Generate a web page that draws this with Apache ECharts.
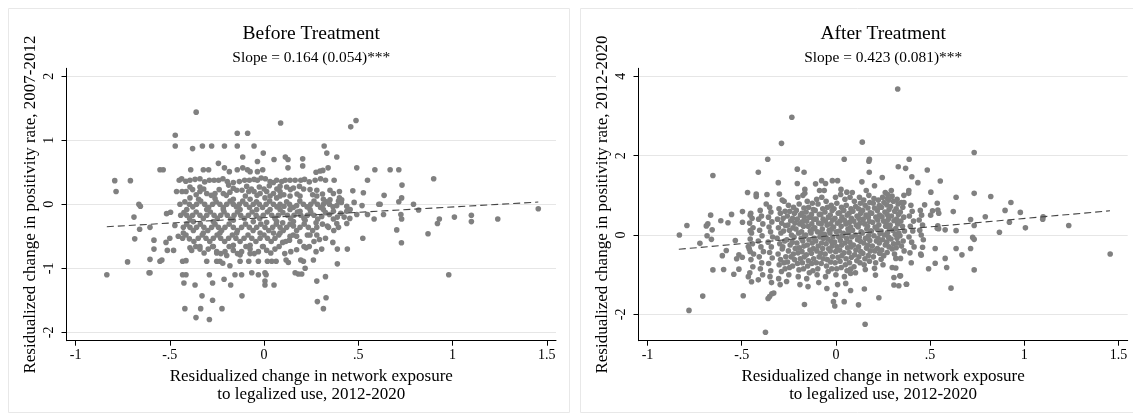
<!DOCTYPE html>
<html><head><meta charset="utf-8">
<script src="https://cdn.jsdelivr.net/npm/echarts@6/dist/echarts.min.js"></script>
<style>html,body{margin:0;padding:0;background:#fff}#c{width:1133px;height:413px}</style>
</head><body><div id="c"></div>
<script>
const xTickValues = [-1, -0.5, 0, 0.5, 1, 1.5];
const xTickLabels = ['-1', '-.5', '0', '.5', '1', '1.5'];
const beforeYTicks = [-2, -1, 0, 1, 2];
const beforeYLabels = ['-2', '-1', '0', '1', '2'];
const afterYTicks = [-2, 0, 2, 4];
const afterYLabels = ['-2', '0', '2', '4'];
const titles = ['Before Treatment', 'After Treatment'];
const subtitles = ['Slope = 0.164 (0.054)***', 'Slope = 0.423 (0.081)***'];
const xName = 'Residualized change in network exposure\nto legalized use, 2012-2020';
const yNames = ['Residualized change in positivity rate, 2007-2012', 'Residualized change in positivity rate, 2012-2020'];

const beforePoints = [
[-0.834,-1.10],[-0.792,0.37],[-0.785,0.20],[-0.709,0.37],[-0.69,-0.20],[-0.686,-0.54],[-0.724,-0.90],[-0.664,0.0],[-0.656,-0.03],[-0.66,-0.39],[-0.61,-1.07],
[0.82,-0.09],[0.87,-0.46],[0.90,0.40],[0.93,-0.23],[0.92,-0.30],[0.98,-1.10],[1.01,-0.20],[1.10,-0.17],[1.10,-0.27],[1.24,-0.23],[1.455,-0.07],
[-0.36,1.44],[-0.471,1.08],[-0.471,0.91],[-0.379,0.87],[-0.327,0.91],[-0.278,0.91],[-0.21,0.91],[-0.142,0.91],[-0.142,1.11],[-0.087,1.11],[-0.053,0.91],[0.088,1.27],[-0.004,0.80],[-0.113,0.74],[0.053,0.70],[-0.035,0.67],[-0.242,0.64],[-0.21,0.57],[-0.184,0.51],
[-0.552,0.54],[-0.535,0.54],[-0.389,0.54],[-0.322,0.54],[-0.294,0.54],[-0.142,0.54],[-0.113,0.57],[-0.088,0.54],[-0.074,0.51],[-0.035,0.51],[-0.007,0.54],
[-0.45,0.376],[-0.437,0.40],[-0.393,0.376],[-0.34,0.40],[-0.29,0.376],[-0.265,0.376],[-0.241,0.376],[-0.195,0.355],[-0.131,0.355],[-0.103,0.376],[-0.078,0.376],[-0.053,0.39],[-0.035,0.376],[0.007,0.40],[0.032,0.355],[0.067,0.376],[0.094,0.355],
[-0.415,0.36],[-0.366,0.39],[-0.315,0.35],[-0.218,0.40],[-0.163,0.34],[-0.015,0.41],[0.05,0.34],[0.215,0.39],[0.24,0.35],[0.3,0.40],
[-0.464,0.20],[-0.435,0.20],[-0.414,0.20],[-0.379,0.23],[-0.34,0.20],[-0.304,0.17],[-0.26,0.17],[-0.216,0.17],[-0.181,0.19],[-0.145,0.22],[-0.117,0.22],[-0.081,0.20],[-0.053,0.20],[-0.021,0.17],[0.014,0.20],[0.05,0.17],[0.085,0.20],
[-0.36,0.15],[-0.32,0.24],[-0.28,0.14],[-0.238,0.23],[-0.2,0.14],[-0.163,0.25],[-0.099,0.13],[-0.067,0.24],[-0.037,0.14],[0.0,0.24],[0.032,0.13],[0.068,0.24],[0.105,0.15],[0.14,0.23],[0.175,0.16],[0.21,0.24],[0.28,0.22],[0.31,0.16],[0.40,0.2],
[-0.393,0.27],[-0.34,0.27],[-0.188,0.30],[-0.092,0.28],[-0.025,0.27],[0.028,0.29],
[-0.393,0.10],[-0.347,0.08],[-0.26,0.09],[-0.163,0.08],[-0.074,0.08],[0.005,0.10],[0.067,0.10],
[-0.446,0],[-0.396,0],[-0.358,0],[-0.315,0],[-0.273,0],[-0.234,0],[-0.198,0],[-0.163,0],[-0.131,0],[-0.096,0],[-0.057,0],[-0.025,0],[0.011,0],[0.05,0],[0.085,0],
[-0.42,0.04],[-0.378,-0.04],[-0.336,0.05],[-0.294,-0.05],[-0.254,0.04],[-0.216,-0.05],[-0.18,0.05],[-0.147,-0.04],[-0.113,0.05],[-0.077,-0.05],[-0.04,0.04],[-0.008,-0.05],[0.03,0.05],[0.068,-0.04],[0.12,0.04],[0.155,-0.05],[0.19,0.05],[0.228,-0.04],[0.265,0.05],[0.3,-0.05],[0.331,0.04],[0.366,-0.04],[0.41,0.03],
[-0.517,-0.146],[-0.496,-0.125],[-0.41,-0.08],[-0.304,-0.08],[-0.216,-0.08],[-0.127,-0.08],[-0.039,-0.08],[0.032,-0.08],
[-0.442,-0.17],[-0.41,-0.17],[-0.379,-0.17],[-0.34,-0.17],[-0.304,-0.17],[-0.265,-0.17],[-0.23,-0.17],[-0.195,-0.17],[-0.159,-0.17],[-0.124,-0.17],[-0.083,-0.17],[-0.042,-0.17],[-0.004,-0.17],[0.041,-0.17],[0.076,-0.17],
[-0.425,-0.13],[-0.395,-0.22],[-0.36,-0.12],[-0.322,-0.22],[-0.285,-0.12],[-0.248,-0.22],[-0.212,-0.12],[-0.177,-0.23],[-0.141,-0.12],[-0.104,-0.22],[-0.063,-0.12],[-0.023,-0.22],[0.018,-0.12],[0.058,-0.22],[0.1,-0.13],[0.141,-0.22],[0.177,-0.12],[0.212,-0.22],[0.248,-0.12],[0.285,-0.23],[0.326,-0.13],[0.368,-0.23],[0.407,-0.14],[0.455,-0.22],
[-0.375,-0.27],[-0.269,-0.27],[-0.163,-0.25],[-0.057,-0.27],[0.014,-0.28],[0.067,-0.27],
[-0.605,-0.36],
[-0.473,-0.33],[-0.428,-0.36],[-0.393,-0.36],[-0.358,-0.36],[-0.319,-0.36],[-0.278,-0.36],[-0.242,-0.36],[-0.207,-0.36],[-0.163,-0.36],[-0.119,-0.36],[-0.078,-0.36],[-0.039,-0.36],[0.005,-0.36],[0.046,-0.36],[0.085,-0.36],
[-0.41,-0.31],[-0.375,-0.41],[-0.338,-0.31],[-0.298,-0.41],[-0.26,-0.31],[-0.225,-0.41],[-0.185,-0.31],[-0.141,-0.41],[-0.098,-0.31],[-0.058,-0.41],[-0.017,-0.31],[0.025,-0.41],[0.065,-0.31],[0.102,-0.41],[0.138,-0.31],[0.173,-0.41],[0.213,-0.31],[0.258,-0.41],[0.31,-0.31],[0.37,-0.41],
[-0.428,-0.45],[-0.322,-0.45],[-0.234,-0.45],[-0.145,-0.45],[-0.021,-0.45],[0.05,-0.45],
[-0.584,-0.56],[-0.52,-0.595],[-0.50,-0.53],[-0.455,-0.50],[-0.432,-0.53],[-0.396,-0.54],[-0.349,-0.53],[-0.308,-0.53],[-0.269,-0.53],[-0.23,-0.53],[-0.188,-0.53],[-0.149,-0.53],[-0.106,-0.53],[-0.065,-0.53],[-0.021,-0.53],[0.018,-0.53],[0.058,-0.53],[0.099,-0.595],
[-0.414,-0.48],[-0.372,-0.58],[-0.328,-0.48],[-0.288,-0.58],[-0.249,-0.48],[-0.209,-0.58],[-0.168,-0.48],[-0.127,-0.58],[-0.085,-0.48],[-0.043,-0.58],[0.0,-0.48],[0.038,-0.58],[0.078,-0.48],[0.115,-0.58],[0.155,-0.48],[0.19,-0.58],[0.23,-0.48],[0.265,-0.58],
[-0.393,-0.68],[-0.34,-0.66],[-0.269,-0.66],[-0.163,-0.64],[-0.074,-0.64],[-0.004,-0.66],
[-0.584,-0.70],[-0.513,-0.72],[-0.48,-0.72],[-0.384,-0.72],[-0.34,-0.70],[-0.296,-0.70],[-0.251,-0.74],[-0.207,-0.74],[-0.163,-0.72],[-0.119,-0.74],[-0.074,-0.70],[-0.03,-0.74],[0.014,-0.72],[0.058,-0.70],
[-0.362,-0.66],[-0.318,-0.76],[-0.273,-0.66],[-0.229,-0.77],[-0.185,-0.66],[-0.141,-0.77],[-0.096,-0.66],[-0.052,-0.77],[-0.008,-0.66],[0.036,-0.76],[0.08,-0.66],[0.11,-0.77],[0.24,-0.66],
[-0.251,-0.76],[-0.198,-0.80],[-0.127,-0.79],[-0.074,-0.77],
[-0.605,-0.86],[-0.552,-0.89],[-0.542,-0.87],[-0.432,-0.89],[-0.414,-0.88],[-0.304,-0.89],[-0.251,-0.89],[-0.234,-0.89],[-0.219,-0.92],[-0.181,-0.96],[-0.127,-0.89],[-0.081,-0.89],[-0.03,-0.89],[0.018,-0.89],[0.041,-0.89],[0.064,-0.89],
[-0.605,-1.07],[-0.432,-1.10],[-0.414,-1.10],[-0.29,-1.10],[-0.154,-1.10],[-0.119,-1.10],[-0.065,-1.07],[-0.03,-1.10],[0.005,-1.07],[0.011,-1.10],
[-0.425,-1.23],[-0.366,-1.26],[-0.273,-1.23],[-0.212,-1.17],[-0.177,-1.26],[0.005,-1.20],[0.005,-1.26],[0.053,-1.26],
[-0.329,-1.43],[-0.273,-1.50],[-0.117,-1.43],
[-0.42,-1.63],[-0.336,-1.63],[-0.223,-1.63],
[-0.361,-1.77],[-0.29,-1.80],
[0.46,1.21],[0.488,1.31],[0.319,0.91],[0.333,0.80],[0.386,0.74],[0.113,0.74],[0.127,0.70],[0.205,0.71],[0.205,0.60],[0.127,0.57],[0.276,0.50],[0.297,0.52],[0.312,0.53],[0.34,0.57],[0.492,0.57],[0.588,0.54],[0.669,0.54],[0.715,0.54],
[0.112,0.376],[0.138,0.376],[0.165,0.376],[0.195,0.376],[0.271,0.376],[0.326,0.376],[0.372,0.376],[0.549,0.376],
[0.732,0.30],[0.471,0.21],[0.527,0.18],[0.637,0.14],
[0.085,0.28],[0.12,0.27],[0.156,0.255],[0.188,0.28],[0.244,0.23],[0.258,0.15],[0.35,0.22],[0.368,0.17],[0.40,0.10],[0.412,0.07],
[0.085,0.13],[0.138,0.13],[0.191,0.13],[0.28,0.13],[0.315,0.08],[0.35,0.07],[0.395,0.05],
[0.106,-0.03],[0.135,0],[0.173,-0.02],[0.209,0],[0.248,0],[0.283,0],[0.315,0],[0.347,0],[0.386,-0.02],[0.439,-0.03],[0.478,0.03],[0.52,-0.02],[0.609,0],[0.616,0],
[0.715,0.04],[0.73,0.10],[0.793,0],
[0.085,-0.08],[0.138,-0.08],[0.191,-0.11],[0.244,-0.08],[0.315,-0.08],[0.368,-0.11],[0.439,-0.11],[0.457,-0.08],
[0.124,-0.17],[0.159,-0.17],[0.195,-0.17],[0.23,-0.17],[0.265,-0.17],[0.306,-0.19],[0.347,-0.16],[0.389,-0.20],[0.425,-0.20],[0.492,-0.16],[0.549,-0.16],[0.584,-0.23],[0.634,-0.16],[0.726,-0.16],
[0.099,-0.29],[0.156,-0.27],[0.218,-0.25],[0.276,-0.29],[0.336,-0.34],[0.386,-0.30],[0.439,-0.30],[0.73,-0.23],
[0.12,-0.36],[0.156,-0.34],[0.191,-0.36],[0.235,-0.36],[0.28,-0.36],[0.342,-0.36],[0.395,-0.36],
[0.085,-0.45],[0.138,-0.50],[0.173,-0.50],[0.244,-0.48],[0.28,-0.48],[0.326,-0.53],[0.524,-0.53],
[0.704,-0.40],
[0.135,-0.56],[0.212,-0.66],[0.223,-0.68],[0.294,-0.55],[0.365,-0.595],[0.389,-0.70],[0.442,-0.70],
[0.729,-0.60],
[0.142,-0.74],[0.173,-0.71],[0.195,-0.87],[0.209,-0.89],[0.262,-0.87],[0.276,-0.74],[0.306,-0.70],
[0.117,-0.87],[0.129,-0.91],[0.389,-0.93],
[0.165,-1.07],[0.182,-1.09],[0.20,-1.09],[0.218,-1.0],
[0.28,-1.20],[0.326,-1.13],[0.283,-1.52],[0.329,-1.46],[0.315,-1.63]
];

const afterPoints = [
[-0.831,0.0],[-0.791,0.24],[-0.78,-1.90],[-0.722,-0.21],[-0.707,-1.54],[-0.688,0.23],[-0.68,0.28],[-0.684,-0.02],[-0.665,0.50],[-0.661,-0.11],[-0.653,1.50],[-0.657,0.13],[-0.653,-0.88],[-0.611,0.36],[-0.603,-0.52],[-0.596,-0.87],[-0.573,0.31],[-0.554,0.52],[-0.542,-0.99],[-0.534,-0.14],[-0.527,-0.60],[-0.515,-0.86],[-0.496,0.59],[-0.492,-1.53],[-0.496,0.32],[-0.469,1.07],[-0.412,1.58],[-0.362,1.91],[-0.374,-2.45],[-0.289,2.31],[-0.234,2.97],[-0.205,1.66],[-0.169,1.58],[0.044,1.91],[0.14,2.34],[0.178,1.91],[0.328,3.68],[0.331,1.72],[0.389,1.91],[0.37,1.68],[0.485,1.64],[0.554,1.36],[0.734,2.08],[0.734,1.05],[0.638,0.95],[0.822,0.97],[0.929,0.82],[0.898,0.62],[0.979,0.57],[0.921,0.32],[0.868,0.07],[1.006,0.18],[1.098,0.40],[1.10,0.46],[1.236,0.24],[1.456,-0.48],
[0.611,-1.34],[0.734,-0.88],[0.734,-0.11],[0.726,-0.06],[0.715,-0.34],[0.669,-0.50],[0.638,-0.34],[0.58,-0.59],[0.588,-0.82],[0.527,-0.71],[0.492,-0.85],[0.527,-0.34],[0.715,0.39],[0.734,0.24],[0.638,0.11],[0.58,0.13],[0.623,0.59],[0.538,0.17],[0.538,0.80],[0.546,0.55],[0.504,1.08],
[0.308,-1.26],[0.339,-1.03],[0.374,-1.24],[0.228,-1.58],[0.155,-2.25],[0.12,-1.76],[0.151,-1.36],[-0.006,-1.79],[-0.013,-1.68],[0.044,-1.68],[-0.167,-1.75],[-0.36,-1.60],[-0.352,-1.55],[-0.34,-1.48],[-0.33,-1.46],
[-0.306,1.32],[-0.205,1.30],[-0.108,1.29],[-0.076,1.37],[-0.055,1.30],[-0.019,1.37],[0.009,1.37],[-0.423,1.03],[-0.423,0.97],[-0.366,1.02],[-0.30,1.03],[-0.37,0.78],[-0.285,0.88],[-0.165,1.15],[-0.165,1.05],[-0.087,1.12],[-0.062,1.12],[0.027,1.15],[0.058,1.08],[0.087,1.07],
[-0.455,0.50],[-0.582,-0.39],[-0.515,-0.50],[-0.497,-0.56],[-0.465,-1.05],[-0.448,-1.18],[-0.412,-1.13],[-0.262,-1.17],[-0.455,0.11],[-0.465,-0.29],[-0.455,-0.42],
[0.175,1.86],[0.177,1.58],[0.138,1.34],[0.246,1.45],[0.205,1.24],[0.403,1.47],[0.435,1.32],[0.161,1.12],[0.202,0.92],[0.262,1.07],[0.294,1.12],[0.273,0.92],[0.387,1.12],[0.386,1.05],[0.361,1.0],[0.361,0.82],[0.541,0.63],[0.471,0.76],[0.513,0.61],[0.503,0.50],[0.793,0.46],[0.541,0.23],[0.545,0.16],
[0.46,-0.31],[0.45,-0.48],[0.453,-0.51],[0.40,-0.70],[0.318,-0.59],[0.343,-0.59],[0.299,-0.82],[0.308,-1.07],[0.343,-1.03],[0.334,-1.28],[0.375,-1.24],[0.318,-0.83],[0.24,-0.61],[0.205,-0.84],[0.156,-0.87],[0.21,-1.01],[0.078,-0.97],[0.078,-1.40],
[-0.452,0.55],[-0.445,0.42],[-0.458,0.30],[-0.44,0.18],[-0.448,0.05],[-0.455,-0.10],[-0.443,-0.22],[-0.46,-0.35],[-0.437,-0.48],[-0.451,-0.62],[-0.441,-0.80],[-0.457,-0.95],
[-0.402,0.62],[-0.395,0.48],[-0.41,0.40],[-0.388,0.28],[-0.405,0.12],[-0.392,-0.02],[-0.412,-0.15],[-0.398,-0.30],[-0.385,-0.42],[-0.407,-0.55],[-0.394,-0.70],[-0.401,-0.85],[-0.389,-1.0],
[-0.352,0.70],[-0.345,0.58],[-0.358,0.45],[-0.34,0.33],[-0.355,0.20],[-0.347,0.08],[-0.336,-0.05],[-0.36,-0.18],[-0.343,-0.30],[-0.352,-0.44],[-0.338,-0.58],[-0.357,-0.72],[-0.346,-0.90],[-0.35,-1.05],[-0.342,-1.20],
[-0.302,0.66],[-0.295,0.55],[-0.31,0.40],[-0.288,0.30],[-0.305,0.18],[-0.292,0.05],[-0.312,-0.08],[-0.298,-0.22],[-0.285,-0.35],[-0.307,-0.48],[-0.294,-0.62],[-0.301,-0.75],[-0.289,-0.92],[-0.304,-1.10],[-0.296,-1.25],
[-0.252,0.75],[-0.245,0.60],[-0.258,0.48],[-0.24,0.36],[-0.255,0.25],[-0.247,0.12],[-0.236,0.0],[-0.26,-0.12],[-0.243,-0.25],[-0.252,-0.40],[-0.238,-0.55],[-0.257,-0.68],[-0.246,-0.82],[-0.25,-1.0],
[-0.202,0.95],[-0.195,0.78],[-0.21,0.62],[-0.188,0.50],[-0.205,0.40],[-0.192,0.28],[-0.212,0.15],[-0.198,0.05],[-0.185,-0.08],[-0.207,-0.20],[-0.194,-0.32],[-0.201,-0.45],[-0.189,-0.60],[-0.204,-0.72],[-0.196,-0.88],[-0.2,-1.05],[-0.191,-1.25],
[-0.152,0.85],[-0.145,0.70],[-0.158,0.58],[-0.14,0.45],[-0.155,0.35],[-0.147,0.22],[-0.136,0.10],[-0.16,0.0],[-0.143,-0.12],[-0.152,-0.25],[-0.138,-0.38],[-0.157,-0.50],[-0.146,-0.65],[-0.15,-0.78],[-0.141,-0.95],[-0.155,-1.10],[-0.148,-1.30],
[-0.102,0.90],[-0.095,0.78],[-0.11,0.62],[-0.088,0.52],[-0.105,0.40],[-0.092,0.30],[-0.112,0.18],[-0.098,0.08],[-0.085,-0.05],[-0.107,-0.15],[-0.094,-0.28],[-0.101,-0.40],[-0.089,-0.55],[-0.104,-0.70],[-0.096,-0.85],[-0.1,-1.0],[-0.091,-1.20],
[-0.052,0.85],[-0.045,0.70],[-0.058,0.58],[-0.04,0.45],[-0.055,0.35],[-0.047,0.25],[-0.036,0.12],[-0.06,0.02],[-0.043,-0.10],[-0.052,-0.22],[-0.038,-0.35],[-0.057,-0.48],[-0.046,-0.62],[-0.05,-0.78],[-0.041,-0.92],[-0.055,-1.05],[-0.048,-1.35],
[-0.002,0.95],[0.005,0.80],[-0.01,0.66],[0.012,0.55],[-0.005,0.42],[0.008,0.30],[-0.012,0.20],[0.002,0.08],[0.015,-0.05],[-0.007,-0.18],[0.006,-0.30],[-0.001,-0.42],[0.011,-0.56],[-0.004,-0.70],[0.004,-0.85],[0.0,-1.0],[0.009,-1.25],[-0.003,-1.50],
[0.048,0.90],[0.055,0.75],[0.042,0.62],[0.06,0.50],[0.045,0.38],[0.053,0.28],[0.064,0.15],[0.04,0.04],[0.057,-0.08],[0.048,-0.20],[0.062,-0.32],[0.043,-0.45],[0.054,-0.60],[0.05,-0.75],[0.059,-0.90],[0.045,-1.05],[0.052,-1.22],
[0.098,0.85],[0.105,0.72],[0.09,0.60],[0.112,0.48],[0.095,0.35],[0.108,0.25],[0.088,0.12],[0.102,0.0],[0.115,-0.12],[0.093,-0.25],[0.106,-0.38],[0.099,-0.50],[0.111,-0.65],[0.096,-0.80],[0.104,-0.95],
[0.148,0.88],[0.155,0.75],[0.142,0.62],[0.16,0.50],[0.145,0.40],[0.153,0.28],[0.164,0.15],[0.14,0.05],[0.157,-0.08],[0.148,-0.20],[0.162,-0.33],[0.143,-0.46],[0.154,-0.60],[0.15,-0.75],
[0.198,0.80],[0.205,0.68],[0.19,0.55],[0.212,0.45],[0.195,0.32],[0.208,0.20],[0.188,0.10],[0.202,-0.02],[0.215,-0.15],[0.193,-0.28],[0.206,-0.40],[0.199,-0.55],[0.211,-0.70],
[0.248,0.95],[0.255,0.82],[0.242,0.70],[0.26,0.58],[0.245,0.46],[0.253,0.35],[0.264,0.22],[0.24,0.10],[0.257,0.0],[0.248,-0.12],[0.262,-0.25],[0.243,-0.38],[0.254,-0.52],[0.25,-0.75],
[0.298,0.98],[0.305,0.85],[0.29,0.72],[0.312,0.60],[0.295,0.48],[0.308,0.36],[0.288,0.25],[0.302,0.12],[0.315,0.02],[0.293,-0.10],[0.306,-0.22],[0.299,-0.35],[0.311,-0.48],
[0.348,0.82],[0.355,0.70],[0.342,0.58],[0.36,0.45],[0.345,0.35],[0.353,0.22],[0.364,0.10],[0.34,-0.02],[0.357,-0.15],[0.348,-0.28],[0.362,-0.40],
[0.398,0.75],[0.405,0.60],[0.39,0.48],[0.412,0.35],[0.395,0.22],[0.408,0.10],[0.388,-0.05],[0.402,-0.18],[0.415,-0.30],[0.393,-0.45],
[0.448,0.62],[0.455,0.50],[0.442,0.38],[0.46,0.25],[0.445,0.12],[0.453,0.0],[0.464,-0.12],
[-0.275,0.85],[-0.27,0.60],[-0.28,0.42],[-0.268,0.24],[-0.278,0.10],[-0.272,-0.15],[-0.282,-0.30],[-0.266,-0.55],[-0.276,-0.70],[-0.27,-0.85],
[-0.225,0.70],[-0.22,0.55],[-0.23,0.42],[-0.218,0.30],[-0.228,0.18],[-0.222,-0.05],[-0.232,-0.18],[-0.216,-0.34],[-0.226,-0.48],[-0.22,-0.62],[-0.23,-0.78],
[-0.175,1.0],[-0.17,0.68],[-0.18,0.55],[-0.168,0.45],[-0.178,0.33],[-0.172,0.22],[-0.182,0.08],[-0.166,-0.02],[-0.176,-0.15],[-0.17,-0.28],[-0.18,-0.42],[-0.168,-0.55],[-0.178,-0.70],[-0.172,-0.85],
[-0.125,0.80],[-0.12,0.64],[-0.13,0.52],[-0.118,0.40],[-0.128,0.28],[-0.122,0.15],[-0.132,0.05],[-0.116,-0.08],[-0.126,-0.20],[-0.12,-0.34],[-0.13,-0.46],[-0.118,-0.60],[-0.128,-0.72],[-0.122,-0.90],
[-0.075,0.95],[-0.07,0.66],[-0.08,0.52],[-0.068,0.40],[-0.078,0.28],[-0.072,0.15],[-0.082,0.05],[-0.066,-0.08],[-0.076,-0.20],[-0.07,-0.34],[-0.08,-0.46],[-0.068,-0.60],[-0.078,-0.72],
[-0.025,0.75],[-0.02,0.62],[-0.03,0.50],[-0.018,0.38],[-0.028,0.28],[-0.022,0.15],[-0.032,0.05],[-0.016,-0.05],[-0.026,-0.16],[-0.02,-0.28],[-0.03,-0.40],[-0.018,-0.55],[-0.028,-0.68],[-0.022,-0.85],
[0.025,1.02],[0.03,0.70],[0.02,0.56],[0.032,0.45],[0.022,0.35],[0.028,0.22],[0.018,0.10],[0.034,-0.02],[0.024,-0.14],[0.03,-0.26],[0.02,-0.38],[0.032,-0.52],[0.022,-0.66],[0.028,-0.82],
[0.075,0.95],[0.08,0.66],[0.07,0.55],[0.082,0.42],[0.072,0.32],[0.078,0.20],[0.068,0.06],[0.084,-0.05],[0.074,-0.18],[0.08,-0.30],[0.07,-0.44],[0.082,-0.56],[0.072,-0.70],[0.078,-0.86],
[0.125,0.95],[0.13,0.80],[0.12,0.66],[0.132,0.55],[0.122,0.42],[0.128,0.30],[0.118,0.20],[0.134,0.08],[0.124,-0.05],[0.13,-0.16],[0.12,-0.30],[0.132,-0.42],[0.122,-0.55],[0.128,-0.70],
[0.175,1.0],[0.18,0.82],[0.17,0.68],[0.182,0.56],[0.172,0.45],[0.178,0.34],[0.168,0.22],[0.184,0.10],[0.174,-0.02],[0.18,-0.14],[0.17,-0.26],[0.182,-0.40],[0.172,-0.52],[0.178,-0.66],
[0.225,0.88],[0.23,0.74],[0.22,0.62],[0.232,0.50],[0.222,0.38],[0.228,0.26],[0.218,0.15],[0.234,0.04],[0.224,-0.08],[0.23,-0.20],[0.22,-0.34],[0.232,-0.46],
[0.275,1.02],[0.28,0.88],[0.27,0.76],[0.282,0.64],[0.272,0.52],[0.278,0.40],[0.268,0.28],[0.284,0.16],[0.274,0.06],[0.28,-0.06],[0.27,-0.18],[0.282,-0.30],[0.272,-0.44],
[0.325,0.90],[0.33,0.78],[0.32,0.66],[0.332,0.52],[0.322,0.40],[0.328,0.28],[0.318,0.16],[0.334,0.05],[0.324,-0.08],[0.33,-0.20],[0.32,-0.32]
];

const beforeFit = [[-0.834, -0.35], [1.455, 0.035]];
const afterFit = [[-0.834, -0.36], [1.455, 0.61]];

const FONT = '"Liberation Serif", "Times New Roman", serif';
const DOT = '#808080';

function fmt(values, labels) {
  return function (v) {
    for (let i = 0; i < values.length; i++) if (Math.abs(values[i] - v) < 1e-9) return labels[i];
    return '';
  };
}

function xAxisCfg(gi) {
  return {
    type: 'value', gridIndex: gi, min: -1.048, max: 1.549,
    axisLine: { show: true, onZero: false, lineStyle: { color: '#000', width: 1 } },
    axisTick: { show: true, customValues: xTickValues, length: 5, lineStyle: { color: '#000', width: 1 } },
    axisLabel: { customValues: xTickValues, formatter: fmt(xTickValues, xTickLabels), fontFamily: FONT, fontSize: 14, color: '#000', margin: 8 },
    splitLine: { show: false },
    name: xName, nameLocation: 'middle', nameGap: 19,
    nameTextStyle: { fontFamily: FONT, fontSize: 17, lineHeight: 18, color: '#000' }
  };
}
function yAxisCfg(gi, min, max, ticks, labels, name) {
  return {
    type: 'value', gridIndex: gi, min: min, max: max,
    axisLine: { show: true, onZero: false, lineStyle: { color: '#000', width: 1 } },
    axisTick: { show: true, customValues: ticks, length: 5, lineStyle: { color: '#000', width: 1 } },
    axisLabel: { customValues: ticks, formatter: fmt(ticks, labels), rotate: 90, fontFamily: FONT, fontSize: 14, color: '#000', margin: 10 },
    splitLine: { show: true, lineStyle: { color: '#e6e6e6', width: 1 } },
    name: name, nameLocation: 'middle', nameGap: 27, nameRotate: 90,
    nameTextStyle: { fontFamily: FONT, fontSize: 17, color: '#000' }
  };
}

const chart = echarts.init(document.getElementById('c'), null, { renderer: 'canvas' });
chart.setOption({
  animation: false,
  backgroundColor: '#fff',
  grid: [
    { left: 66.5, top: 68.3, width: 489.5, height: 272.4 },
    { left: 638.5, top: 68.3, width: 489.2, height: 272.4 }
  ],
  xAxis: [xAxisCfg(0), xAxisCfg(1)],
  yAxis: [
    yAxisCfg(0, -2.131, 2.125, beforeYTicks, beforeYLabels, yNames[0]),
    yAxisCfg(1, -2.664, 4.202, afterYTicks, afterYLabels, yNames[1])
  ],
  graphic: [
    { type: 'rect', z: -10, silent: true, shape: { x: 8.5, y: 8.5, width: 561, height: 404 }, style: { fill: '#fff', stroke: '#e8e8e8', lineWidth: 1 } },
    { type: 'rect', z: -10, silent: true, shape: { x: 580.5, y: 8.5, width: 600, height: 404 }, style: { fill: '#fff', stroke: '#e8e8e8', lineWidth: 1 } },
    { type: 'text', x: 311.3, y: 34, style: { text: titles[0], fontFamily: FONT, fontSize: 19.5, fill: '#000', align: 'center', verticalAlign: 'middle' } },
    { type: 'text', x: 311.3, y: 57.5, style: { text: subtitles[0], fontFamily: FONT, fontSize: 15.4, fill: '#000', align: 'center', verticalAlign: 'middle' } },
    { type: 'text', x: 883.2, y: 34, style: { text: titles[1], fontFamily: FONT, fontSize: 19.5, fill: '#000', align: 'center', verticalAlign: 'middle' } },
    { type: 'text', x: 883.2, y: 57.5, style: { text: subtitles[1], fontFamily: FONT, fontSize: 15.4, fill: '#000', align: 'center', verticalAlign: 'middle' } }
  ],
  series: [
    { type: 'scatter', xAxisIndex: 0, yAxisIndex: 0, data: beforePoints, symbol: 'circle', symbolSize: 5.6, itemStyle: { color: DOT, opacity: 1 }, z: 3, silent: true },
    { type: 'line', xAxisIndex: 0, yAxisIndex: 0, data: beforeFit, symbol: 'none', lineStyle: { color: '#444', width: 1.1, type: [7, 4] }, z: 4, silent: true },
    { type: 'scatter', xAxisIndex: 1, yAxisIndex: 1, data: afterPoints, symbol: 'circle', symbolSize: 5.6, itemStyle: { color: DOT, opacity: 1 }, z: 3, silent: true },
    { type: 'line', xAxisIndex: 1, yAxisIndex: 1, data: afterFit, symbol: 'none', lineStyle: { color: '#444', width: 1.1, type: [7, 4] }, z: 4, silent: true }
  ]
});
</script>
</body></html>
